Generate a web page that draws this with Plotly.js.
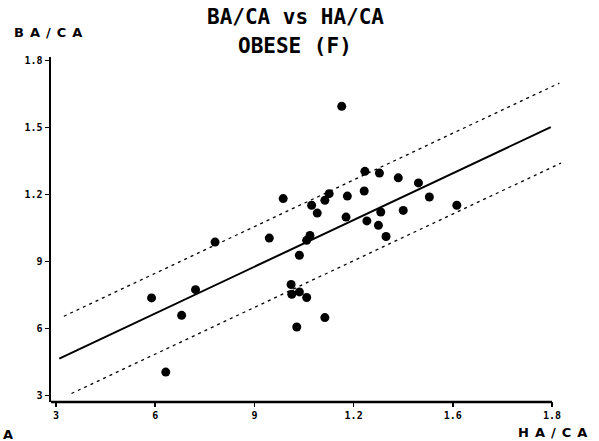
<!DOCTYPE html>
<html>
<head>
<meta charset="utf-8">
<script src="https://cdn.plot.ly/plotly-3.0.1.min.js"></script>
<style>
  html, body { margin: 0; padding: 0; background: #fff; }
  #chart { width: 599px; height: 441px; }
  .annotation[data-index="0"] text,
  .annotation[data-index="1"] text,
  .annotation[data-index="2"] text { letter-spacing: 6px; }
  .xtick text, .ytick text { font-weight: 700 !important; }
</style>
</head>
<body>
<div id="chart"></div>
<script>
// HA/CA (x) and BA/CA (y) values
const haCa = [0.589, 0.722, 0.680, 0.781, 0.632, 0.945, 0.987, 1.036, 1.011, 1.013,
              1.036, 1.058, 1.028, 1.113, 1.058, 1.068, 1.073, 1.090, 1.113, 1.126,
              1.164, 1.181, 1.177, 1.234, 1.278, 1.232, 1.240, 1.282, 1.275, 1.298,
              1.335, 1.350, 1.396, 1.429, 1.512];
const baCa = [0.736, 0.773, 0.658, 0.986, 0.404, 1.004, 1.181, 0.927, 0.796, 0.752,
              0.763, 0.738, 0.606, 0.648, 0.994, 1.016, 1.151, 1.116, 1.173, 1.203,
              1.594, 1.192, 1.098, 1.303, 1.295, 1.215, 1.081, 1.121, 1.061, 1.011,
              1.274, 1.128, 1.251, 1.188, 1.151];

// Regression line and its band, end points
const fitX = [0.310, 1.796];
const fitY = [0.464, 1.501];
const upperX = [0.324, 1.822];
const upperY = [0.654, 1.698];
const lowerX = [0.347, 1.827];
const lowerY = [0.308, 1.340];

// Tick values and printed tick labels
const tickVals = [0.3, 0.6, 0.9, 1.2, 1.5, 1.8];
const xTickText = ["3", "6", "9", "1.2", "1.6", "1.8"];
const yTickText = ["3", "6", "9", "1.2", "1.5", "1.8"];

// Texts
const titleLines = ["BA/CA vs HA/CA", "OBESE (F)"];
const yLabel = "BA/CA";
const xLabel = "HA/CA";
const panelLetter = "A";

const xRange = [0.285, 1.83];
const yRange = [0.27, 1.815];

const tickFont = {family: "DejaVu Sans Mono, monospace", size: 10, color: "#000", weight: 700};
const labelFont = {family: "DejaVu Sans, sans-serif", size: 13, color: "#000", weight: 700};
const titleFont = {family: "DejaVu Sans Mono, monospace", size: 21, color: "#000", weight: 700};

const traces = [
  {x: upperX, y: upperY, mode: "lines", type: "scatter",
   line: {color: "#000", width: 1.3, dash: "3px,4px"}, hoverinfo: "skip"},
  {x: lowerX, y: lowerY, mode: "lines", type: "scatter",
   line: {color: "#000", width: 1.3, dash: "3px,4px"}, hoverinfo: "skip"},
  {x: fitX, y: fitY, mode: "lines", type: "scatter",
   line: {color: "#000", width: 2}, hoverinfo: "skip"},
  {x: haCa, y: baCa, mode: "markers", type: "scatter",
   marker: {color: "#000", size: 9}}
];

const layout = {
  width: 599, height: 441,
  margin: {l: 51, r: 37, t: 57, b: 39, pad: 0},
  paper_bgcolor: "#fff", plot_bgcolor: "#fff",
  showlegend: false,
  xaxis: {
    range: xRange, showgrid: false, zeroline: false, showline: false,
    tickmode: "array", tickvals: tickVals, ticktext: xTickText,
    ticks: "outside", ticklen: 4, tickwidth: 1.5, tickcolor: "#000",
    tickfont: tickFont
  },
  yaxis: {
    range: yRange, showgrid: false, zeroline: false,
    showline: true, linecolor: "#000", linewidth: 2.5,
    tickmode: "array", tickvals: tickVals, ticktext: yTickText,
    ticks: "outside", ticklen: 4, tickwidth: 1.5, tickcolor: "#000",
    tickfont: tickFont
  },
  shapes: [
    {type: "line", xref: "x", yref: "paper", x0: xRange[0], x1: 1.8, y0: 0, y1: 0,
     line: {color: "#000", width: 2.5}},
    {type: "line", xref: "x", yref: "paper", x0: 1.8, x1: 1.8, y0: 0, y1: -0.012,
     line: {color: "#000", width: 1.5}}
  ],
  annotations: [
    {text: yLabel, xref: "paper", yref: "paper", x: 0.0, y: 1.07,
     xanchor: "center", yanchor: "middle", showarrow: false, font: labelFont},
    {text: xLabel, xref: "paper", yref: "paper", x: 0.987, y: -0.087,
     xanchor: "center", yanchor: "middle", showarrow: false, font: labelFont},
    {text: panelLetter, xref: "paper", yref: "paper", x: -0.079, y: -0.095,
     xanchor: "center", yanchor: "middle", showarrow: false, font: labelFont},
    {text: titleLines[0], xref: "paper", yref: "paper", x: 0.479, y: 1.116,
     xanchor: "center", yanchor: "middle", showarrow: false, font: titleFont},
    {text: titleLines[1], xref: "paper", yref: "paper", x: 0.477, y: 1.032,
     xanchor: "center", yanchor: "middle", showarrow: false, font: titleFont}
  ]
};

Plotly.newPlot("chart", traces, layout, {displayModeBar: false, staticPlot: true});
</script>
</body>
</html>
